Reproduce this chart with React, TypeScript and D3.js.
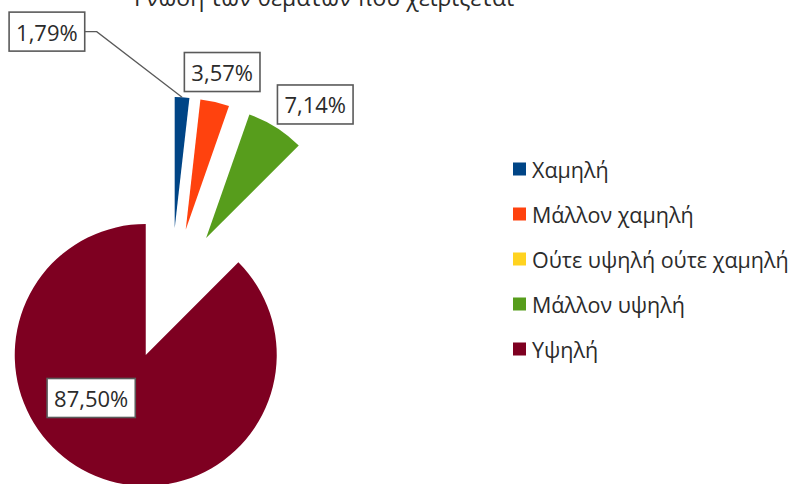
import React, { useEffect, useRef } from "react";
import * as d3 from "d3";

const title = "Γνώση των θεμάτων που χειρίζεται";
const categories = ["Χαμηλή", "Μάλλον χαμηλή", "Ούτε υψηλή ούτε χαμηλή", "Μάλλον υψηλή", "Υψηλή"];
const values = [1.79, 3.57, 0, 7.14, 87.5];
const labels = ["1,79%", "3,57%", "0,00%", "7,14%", "87,50%"];
const colors = ["#004586", "#ff420e", "#ffd320", "#579d1c", "#7e0021"];

// layout (not data)
const W = 797;
const H = 484;
const CX = 171;
const CY = 294;
const R = 131;
const EXPLODE = 66;
const FONT = "'Open Sans', 'DejaVu Sans', sans-serif";
const TEXT = "#2b2b2b";
const labelLayout = [
  { rf: 1.25, dx: -137, dy: -33, leader: true },
  { rf: 1.25, dx: 0, dy: 2, leader: false },
  { rf: 1.25, dx: 0, dy: 0, leader: false },
  { rf: 1.25, dx: 22, dy: 5, leader: false },
  { rf: 0.5, dx: -29.5, dy: -17.5, leader: false },
];

export default function App() {
  const ref = useRef<SVGSVGElement | null>(null);

  useEffect(() => {
    document.body.style.margin = "0";
    const svg = d3.select(ref.current);
    svg.selectAll("*").remove();

    svg
      .append("text")
      .attr("x", 324)
      .attr("y", 6)
      .attr("text-anchor", "middle")
      .attr("font-family", FONT)
      .attr("font-size", 23)
      .attr("fill", TEXT)
      .text(title);

    const data = categories.map((c, i) => ({ c, v: values[i], i }));
    const pie = d3
      .pie<any>()
      .sort(null)
      .value((d: any) => d.v)
      .startAngle(0)
      .endAngle(2 * Math.PI);
    const arcs = pie(data);
    const arc = d3.arc<any>().innerRadius(0).outerRadius(R);

    const g = svg.append("g");
    arcs.forEach((a: any) => {
      if (a.data.v <= 0) return;
      const mid = (a.startAngle + a.endAngle) / 2;
      const ex = CX + EXPLODE * Math.sin(mid);
      const ey = CY - EXPLODE * Math.cos(mid);
      g.append("path")
        .attr("transform", `translate(${ex},${ey})`)
        .attr("d", arc(a) as string)
        .attr("fill", colors[a.data.i]);
    });

    const lg = svg.append("g");
    arcs.forEach((a: any) => {
      if (a.data.v <= 0) return;
      const i = a.data.i;
      const L = labelLayout[i];
      const mid = (a.startAngle + a.endAngle) / 2;
      const ex = CX + EXPLODE * Math.sin(mid);
      const ey = CY - EXPLODE * Math.cos(mid);
      const lx = ex + R * L.rf * Math.sin(mid) + L.dx;
      const ly = ey - R * L.rf * Math.cos(mid) + L.dy;
      const grp = lg.append("g");
      const rect = grp.append("rect");
      const t = grp
        .append("text")
        .attr("x", lx)
        .attr("y", ly)
        .attr("text-anchor", "middle")
        .attr("dominant-baseline", "central")
        .attr("font-family", FONT)
        .attr("font-size", 22)
        .attr("fill", TEXT)
        .text(labels[i]);
      const tw = (t.node() as SVGTextElement).getComputedTextLength();
      const bw = tw + 14;
      const bh = 39;
      rect
        .attr("x", lx - bw / 2)
        .attr("y", ly - bh / 2)
        .attr("width", bw)
        .attr("height", bh)
        .attr("fill", "#fff")
        .attr("stroke", "#5a5a5a")
        .attr("stroke-width", 1.6);
      if (L.leader) {
        const px = ex + R * Math.sin(mid);
        const py = ey - R * Math.cos(mid);
        const sx = lx + bw / 2;
        grp
          .insert("path", "rect")
          .attr("d", `M${sx},${ly}L${sx + 12},${ly}L${px},${py}`)
          .attr("fill", "none")
          .attr("stroke", "#5a5a5a")
          .attr("stroke-width", 1.3);
      }
    });

    const leg = svg.append("g");
    const ly0 = 169;
    const step = 45;
    categories.forEach((c, i) => {
      const y = ly0 + i * step;
      leg
        .append("rect")
        .attr("x", 513)
        .attr("y", y - 6.5)
        .attr("width", 13)
        .attr("height", 13)
        .attr("fill", colors[i]);
      leg
        .append("text")
        .attr("x", 532)
        .attr("y", y)
        .attr("dominant-baseline", "central")
        .attr("font-family", FONT)
        .attr("font-size", 21.5)
        .attr("fill", TEXT)
        .text(c);
    });
  }, []);

  return <svg ref={ref} width={W} height={H} style={{ display: "block", background: "#fff" }} />;
}
